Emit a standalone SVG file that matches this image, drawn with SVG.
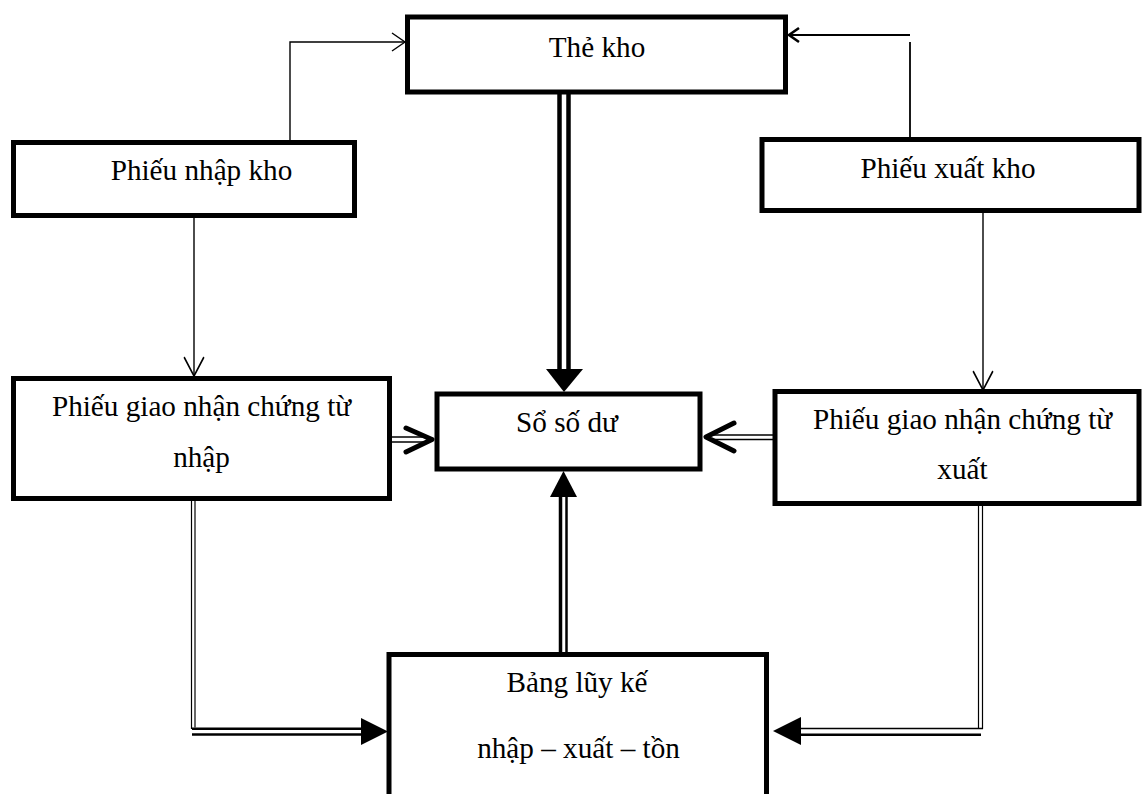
<svg xmlns="http://www.w3.org/2000/svg" width="1144" height="794" viewBox="0 0 1144 794">
  <style>
    .box { fill: #ffffff; stroke: #000000; stroke-width: 5; }
    .lbl { font-family: "Liberation Serif", "Times New Roman", serif; font-size: 29.2px; fill: #000000; text-anchor: middle; }
    .thin { fill: none; stroke: #000000; stroke-width: 1.4; }
    .mid { fill: none; stroke: #000000; stroke-width: 1.8; }
    .rail { fill: none; stroke: #000000; }
    .chev { fill: none; stroke: #000000; stroke-width: 1.4; stroke-linejoin: miter; }
    .chev-bold { fill: none; stroke: #000000; stroke-width: 5; stroke-linecap: round; stroke-linejoin: round; }
    .head { fill: #000000; stroke: none; }
  </style>
  <defs>
    <!-- open thin chevron, tip at the origin, pointing along +x -->
    <path id="chevron" d="M -13 -9 L 0 0 L -13 9"/>
  </defs>

  <rect width="1144" height="794" fill="#ffffff"/>

  <g id="connectors">
    <!-- Phiếu nhập kho -> Thẻ kho -->
    <polyline class="thin" points="290,140 290,42 405,42"/>
    <use href="#chevron" class="chev" transform="translate(405,42)"/>

    <!-- Phiếu xuất kho -> Thẻ kho -->
    <line class="mid" x1="910" y1="137" x2="910" y2="42"/>
    <line class="mid" x1="910" y1="35" x2="789" y2="35"/>
    <path class="chev" style="stroke-width:2.6" d="M 799 28 L 789 35 L 799 42"/>

    <!-- Phiếu nhập kho -> Phiếu giao nhận chứng từ nhập -->
    <line class="thin" x1="194" y1="218" x2="194" y2="376"/>
    <use href="#chevron" class="chev" transform="translate(194,376) rotate(90) scale(1.45,1.1)"/>

    <!-- Phiếu xuất kho -> Phiếu giao nhận chứng từ xuất -->
    <line class="thin" x1="983" y1="212" x2="983" y2="390"/>
    <use href="#chevron" class="chev" transform="translate(983,390) rotate(90) scale(1.45,1.1)"/>

    <!-- Thẻ kho -> Sổ số dư -->
    <line class="rail" stroke-width="4.5" x1="559.5" y1="94" x2="559.5" y2="371"/>
    <line class="rail" stroke-width="4.5" x1="568.5" y1="94" x2="568.5" y2="371"/>
    <polygon class="head" points="546,369 583,369 564,392"/>

    <!-- Bảng lũy kế -> Sổ số dư -->
    <line class="rail" stroke-width="3.5" x1="560.5" y1="653" x2="560.5" y2="495"/>
    <line class="rail" stroke-width="2.5" x1="566.5" y1="653" x2="566.5" y2="495"/>
    <polygon class="head" points="550,497 577,497 563.5,471"/>

    <!-- Phiếu giao nhận chứng từ nhập -> Sổ số dư -->
    <line class="rail" stroke-width="1.5" x1="392" y1="437" x2="428" y2="437"/>
    <line class="rail" stroke-width="1.5" x1="392" y1="442" x2="428" y2="442"/>
    <path class="chev-bold" d="M 406 428 L 432 439.5 L 406 452"/>

    <!-- Phiếu giao nhận chứng từ xuất -> Sổ số dư -->
    <line class="rail" stroke-width="1.5" x1="775" y1="435" x2="712" y2="435"/>
    <line class="rail" stroke-width="1.5" x1="775" y1="439.5" x2="712" y2="439.5"/>
    <path class="chev-bold" d="M 734 423 L 706 437 L 734 451"/>

    <!-- Phiếu giao nhận chứng từ nhập -> Bảng lũy kế -->
    <line class="rail" stroke-width="1.2" x1="191.5" y1="501" x2="191.5" y2="729"/>
    <line class="rail" stroke-width="1.2" x1="195" y1="501" x2="195" y2="727.5"/>
    <line class="rail" stroke-width="2.5" x1="192" y1="728.8" x2="364" y2="728.8"/>
    <line class="rail" stroke-width="2.7" x1="192" y1="734.5" x2="364" y2="734.5"/>
    <polygon class="head" points="361,718 361,745 388,731.5"/>

    <!-- Phiếu giao nhận chứng từ xuất -> Bảng lũy kế -->
    <line class="rail" stroke-width="1.2" x1="978.5" y1="506" x2="978.5" y2="728"/>
    <line class="rail" stroke-width="1.2" x1="982.5" y1="506" x2="982.5" y2="729"/>
    <line class="rail" stroke-width="1.6" x1="983" y1="728.5" x2="799" y2="728.5"/>
    <line class="rail" stroke-width="2.6" x1="981" y1="734.8" x2="799" y2="734.8"/>
    <polygon class="head" points="801,717 801,745 773,731"/>
  </g>

  <g id="the-kho">
    <rect class="box" x="407.5" y="17" width="378" height="75"/>
    <text class="lbl" x="597" y="57">Thẻ kho</text>
  </g>

  <g id="phieu-nhap-kho">
    <rect class="box" x="13.5" y="142.5" width="341" height="73"/>
    <text class="lbl" x="201.5" y="180">Phiếu nhập kho</text>
  </g>

  <g id="phieu-xuat-kho">
    <rect class="box" x="762" y="139.5" width="377" height="71"/>
    <text class="lbl" x="948" y="178">Phiếu xuất kho</text>
  </g>

  <g id="phieu-giao-nhan-nhap">
    <rect class="box" x="13.5" y="378.5" width="376" height="120"/>
    <text class="lbl" x="201.5" y="416">Phiếu giao nhận chứng từ</text>
    <text class="lbl" x="201.5" y="467">nhập</text>
  </g>

  <g id="so-so-du">
    <rect class="box" x="437" y="394" width="263" height="75"/>
    <text class="lbl" x="567" y="432">Sổ số dư</text>
  </g>

  <g id="phieu-giao-nhan-xuat">
    <rect class="box" x="775" y="391.5" width="364" height="112"/>
    <text class="lbl" x="962.5" y="429">Phiếu giao nhận chứng từ</text>
    <text class="lbl" x="962.5" y="479">xuất</text>
  </g>

  <g id="bang-luy-ke">
    <rect class="box" x="389" y="654.5" width="377.5" height="160"/>
    <text class="lbl" x="577" y="692">Bảng lũy kế</text>
    <text class="lbl" x="578.5" y="758">nhập – xuất – tồn</text>
  </g>
</svg>
